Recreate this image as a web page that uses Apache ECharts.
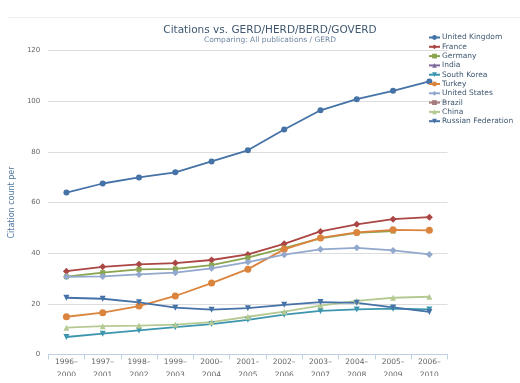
<!DOCTYPE html>
<html><head><meta charset="utf-8">
<script src="https://cdn.jsdelivr.net/npm/echarts@6/dist/echarts.min.js"></script>
<style>html,body{margin:0;padding:0;background:#fff}#c{width:520px;height:383px}</style>
</head><body><div id="c"></div>
<script>
const categories = ['1996–\n2000','1997–\n2001','1998–\n2002','1999–\n2003','2000–\n2004','2001–\n2005','2002–\n2006','2003–\n2007','2004–\n2008','2005–\n2009','2006–\n2010'];
const yTicks = [0, 20, 40, 60, 80, 100, 120];
const seriesNames = ['United Kingdom','France','Germany','India','South Korea','Turkey','United States','Brazil','China','Russian Federation'];
const ukData = [63.9, 67.5, 69.9, 71.9, 76.2, 80.6, 88.8, 96.4, 100.8, 104.1, 107.8];
const franceData = [32.9, 34.6, 35.6, 36.1, 37.3, 39.5, 43.7, 48.6, 51.4, 53.4, 54.2];
const germanyData = [30.7, 32.3, 33.6, 33.8, 35.3, 38.2, 42.0, 45.8, 48.0, 48.7, null];
const indiaData = [];
const southKoreaData = [6.9, 8.2, 9.5, 10.8, 12.0, 13.7, 15.7, 17.2, 17.8, 18.1, 17.8];
const turkeyData = [14.9, 16.5, 19.1, 23.1, 28.2, 33.7, 41.5, 46.0, 48.2, 49.2, 49.0];
const usData = [30.7, 30.8, 31.6, 32.3, 34.0, 36.5, 39.4, 41.5, 42.1, 41.1, 39.5];
const brazilData = [];
const chinaData = [10.6, 11.2, 11.4, 11.8, 12.8, 14.9, 16.9, 19.3, 21.2, 22.4, 22.8];
const russiaData = [22.4, 22.0, 20.6, 18.5, 17.7, 18.3, 19.6, 20.7, 20.4, 18.6, 16.8];

const allData = [ukData, franceData, germanyData, indiaData, southKoreaData, turkeyData, usData, brazilData, chinaData, russiaData];
const colors = ['#4572A7','#AA4643','#89A54E','#80699B','#3D96AE','#DB843D','#92A8CD','#A47D7C','#B5CA92','#4572A7'];
const triDown = 'path://M0,0 L10,0 L5,9 Z';
const symbols = ['circle','diamond','rect','triangle',triDown,'circle','diamond','rect','triangle',triDown];
const sizes = [6,7,5,6,6,7,7,5,6,6];
const FONT = 'DejaVu Sans';

const chart = echarts.init(document.getElementById('c'), null, {renderer:'canvas'});
chart.setOption({
  animation: false,
  color: colors,
  title: {
    text: 'Citations vs. GERD/HERD/BERD/GOVERD',
    subtext: 'Comparing: All publications / GERD',
    left: 265, textAlign: 'center', top: 20,
    textStyle: {fontFamily: FONT, fontSize: 10.5, fontWeight: 'normal', color: '#3E576F'},
    subtextStyle: {fontFamily: FONT, fontSize: 7.5, color: '#6D869F', lineHeight: 9},
    itemGap: 0
  },
  legend: {
    orient: 'vertical', left: 423, top: 28,
    itemWidth: 11, itemHeight: 6, itemGap: 0.3,
    textStyle: {fontFamily: FONT, fontSize: 7.5, color: '#3E576F', lineHeight: 9, padding: [0,0,0,-3]},
    data: seriesNames
  },
  grid: {left: 45.5, right: 72.5, top: 50.5, bottom: 28.5, containLabel: false},
  xAxis: {
    type: 'category', data: categories, boundaryGap: true,
    axisLine: {lineStyle: {color: '#C0D0E0', width: 1}},
    axisTick: {show: true, length: 5, lineStyle: {color: '#C0D0E0'}},
    axisLabel: {fontFamily: FONT, fontSize: 7.5, color: '#666', lineHeight: 13, margin: 1, interval: 0}
  },
  yAxis: {
    type: 'value', min: 0, max: 120, interval: 20,
    name: 'Citation count per', nameLocation: 'middle', nameGap: 23,
    nameTextStyle: {fontFamily: FONT, fontSize: 8, color: '#4D759E'},
    axisLine: {show: false}, axisTick: {show: false},
    axisLabel: {fontFamily: FONT, fontSize: 7, color: '#666', margin: 8,
      formatter: v => yTicks.includes(v) ? String(v) : ''},
    splitLine: {lineStyle: {color: '#DDDDDD', width: 1}}
  },
  graphic: [
    {type: 'line', shape: {x1: 8, y1: 17.5, x2: 520, y2: 17.5}, style: {stroke: '#EEEEEE', lineWidth: 1}},
    {type: 'rect', shape: {x: 0, y: 376, width: 520, height: 7}, style: {fill: '#fff'}, z: 100}
  ],
  series: seriesNames.map((n, i) => ({
    name: n, type: 'line', data: allData[i],
    symbol: symbols[i], symbolSize: sizes[i], showSymbol: true,
    lineStyle: {width: 1.8, color: colors[i]},
    itemStyle: {color: colors[i]},
    connectNulls: false
  }))
});
</script></body></html>
